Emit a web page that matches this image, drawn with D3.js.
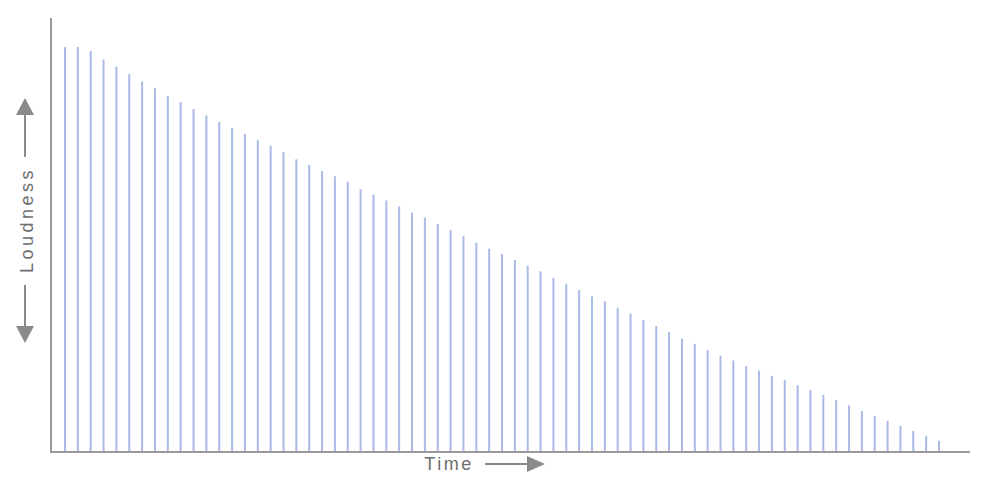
<!DOCTYPE html>
<html>
<head>
<meta charset="utf-8">
<script src="https://cdn.jsdelivr.net/npm/d3@7.9.0/dist/d3.min.js"></script>
<style>
  html, body { margin: 0; padding: 0; background: #fff; }
  svg { display: block; }
</style>
</head>
<body>
<svg id="chart"></svg>
<script>
// loudness of each pulse (0-100)
const loudness = [
  100, 100, 99, 96.9, 95.1, 93.3, 91.5, 89.8, 87.9, 86.4,
  84.7, 83.1, 81.5, 80, 78.5, 77, 75.6, 74, 72.3, 70.9,
  69.4, 68.1, 66.7, 64.9, 63.5, 62.1, 60.6, 59.1, 57.9, 56.3,
  54.8, 53.3, 51.7, 50.2, 48.9, 47.4, 46, 44.6, 43, 41.5,
  40, 38.4, 37.2, 35.6, 34.2, 32.6, 31.1, 29.6, 28, 26.7,
  25.2, 23.8, 22.6, 21.2, 20.1, 18.8, 17.8, 16.5, 15.3, 14.1,
  12.8, 11.5, 10.1, 8.9, 7.7, 6.4, 5.2, 4, 2.8
];
const steps = d3.range(loudness.length);
const xLabel = 'Time';
const yLabel = 'Loudness';

const width = 1007;
const height = 483;
const margin = { top: 18, right: 37, bottom: 31, left: 51 };

const svg = d3.select('#chart')
  .attr('width', width)
  .attr('height', height);

const baseY = height - margin.bottom;

const xScale = d3.scaleLinear()
  .domain([0, loudness.length - 1])
  .range([65, 939]);

const yScale = d3.scaleLinear()
  .domain([0, 100])
  .range([baseY, 47]);

// pulses
svg.append('g')
  .selectAll('line')
  .data(steps)
  .join('line')
  .attr('x1', (d) => xScale(d))
  .attr('x2', (d) => xScale(d))
  .attr('y1', baseY)
  .attr('y2', (d) => yScale(loudness[d]))
  .attr('stroke', '#a9bae6')
  .attr('stroke-width', 2);

// axis lines, no ticks
const axisColor = '#9a9a9a';
svg.append('line')
  .attr('x1', margin.left).attr('x2', margin.left)
  .attr('y1', margin.top).attr('y2', baseY + 1)
  .attr('stroke', axisColor).attr('stroke-width', 2);

svg.append('line')
  .attr('x1', margin.left).attr('x2', width - margin.right)
  .attr('y1', baseY).attr('y2', baseY)
  .attr('stroke', axisColor).attr('stroke-width', 2);

// labels with arrows
const arrowColor = '#8a8a8a';
const textColor = '#6e6e6e';

svg.append('text')
  .attr('x', 449)
  .attr('y', 470)
  .attr('text-anchor', 'middle')
  .attr('font-family', 'Liberation Sans, Arial, sans-serif')
  .attr('font-size', 18)
  .attr('letter-spacing', 2.5)
  .attr('fill', textColor)
  .text(xLabel);

svg.append('line')
  .attr('x1', 485).attr('x2', 528)
  .attr('y1', 464).attr('y2', 464)
  .attr('stroke', arrowColor).attr('stroke-width', 2);
svg.append('path')
  .attr('d', 'M527,456 L545,464 L527,472 Z')
  .attr('fill', arrowColor);

svg.append('text')
  .attr('transform', 'translate(33,220) rotate(-90)')
  .attr('text-anchor', 'middle')
  .attr('font-family', 'Liberation Sans, Arial, sans-serif')
  .attr('font-size', 18)
  .attr('letter-spacing', 3.5)
  .attr('fill', textColor)
  .text(yLabel);

// up arrow
svg.append('line')
  .attr('x1', 25).attr('x2', 25)
  .attr('y1', 157).attr('y2', 112)
  .attr('stroke', arrowColor).attr('stroke-width', 2);
svg.append('path')
  .attr('d', 'M16,115 L25,98 L34,115 Z')
  .attr('fill', arrowColor);

// down arrow
svg.append('line')
  .attr('x1', 25).attr('x2', 25)
  .attr('y1', 285).attr('y2', 328)
  .attr('stroke', arrowColor).attr('stroke-width', 2);
svg.append('path')
  .attr('d', 'M16,326 L25,343 L34,326 Z')
  .attr('fill', arrowColor);
</script>
</body>
</html>
